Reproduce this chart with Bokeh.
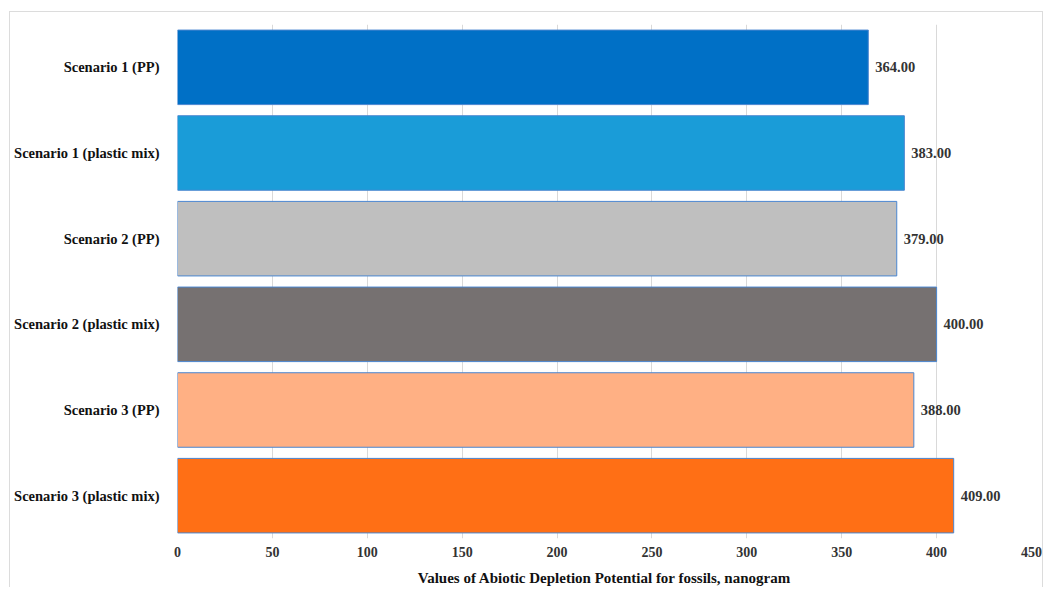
from bokeh.plotting import figure
from bokeh.models import ColumnDataSource, FixedTicker, Range1d
from bokeh.core.properties import value
from bokeh.embed import file_html
from bokeh.resources import INLINE

categories = ["Scenario 1 (PP)", "Scenario 1 (plastic mix)", "Scenario 2 (PP)",
              "Scenario 2 (plastic mix)", "Scenario 3 (PP)", "Scenario 3 (plastic mix)"]
values = [364.0, 383.0, 379.0, 400.0, 388.0, 409.0]
colors = ["#0070C6", "#1A9CD8", "#BFBFBF", "#767171", "#FFB084", "#FF6F15"]
ticks = [0, 50, 100, 150, 200, 250, 300, 350, 400, 450]
x_title = "Values of Abiotic Depletion Potential for fossils, nanogram"

labels = ["%.2f" % v for v in values]
src = ColumnDataSource(dict(cat=categories, val=values, col=colors, lab=labels))

FONT = "Liberation Serif"

p = figure(width=1034, height=576, y_range=list(reversed(categories)),
           x_range=Range1d(0, 450), output_backend="svg", toolbar_location=None,
           min_border_left=167, min_border_right=13, min_border_top=12, min_border_bottom=48)
p.styles = {"border-left": "1px solid #dcdcdc", "border-top": "1px solid #dcdcdc",
            "border-right": "1px solid #dcdcdc", "margin-left": "9px", "margin-top": "11px"}
p.outline_line_color = None

p.hbar(y="cat", right="val", left=0, height=0.87, fill_color="col",
       line_color="#4A86D0", line_width=1, source=src)
p.text(x="val", y="cat", text="lab", source=src, x_offset=7,
       text_font=value(FONT), text_font_size="14.5px", text_baseline="middle",
       text_color="#333333", text_font_style="bold")

p.xgrid.ticker = FixedTicker(ticks=ticks)
p.xgrid.grid_line_color = "#d9d9d9"
p.ygrid.grid_line_color = None
p.xaxis.ticker = FixedTicker(ticks=ticks)
p.xaxis.axis_line_color = None
p.xaxis.major_tick_line_color = None
p.xaxis.minor_tick_line_color = None
p.xaxis.major_label_text_font = FONT
p.xaxis.major_label_text_font_size = "14px"
p.xaxis.major_label_text_font_style = "bold"
p.xaxis.major_label_text_color = "#333333"
p.xaxis.major_label_standoff = 2
p.xaxis.axis_label = x_title
p.xaxis.axis_label_text_font = FONT
p.xaxis.axis_label_text_font_size = "15px"
p.xaxis.axis_label_text_font_style = "bold"
p.xaxis.axis_label_text_color = "#111111"
p.xaxis.axis_label_standoff = 10

p.yaxis.axis_line_color = None
p.yaxis.major_tick_line_color = None
p.yaxis.minor_tick_line_color = None
p.yaxis.major_label_text_font = FONT
p.yaxis.major_label_text_font_size = "14.5px"
p.yaxis.major_label_text_font_style = "bold"
p.yaxis.major_label_text_color = "#111111"
p.yaxis.major_label_standoff = 12

open("out.html", "w").write(file_html(p, INLINE))
